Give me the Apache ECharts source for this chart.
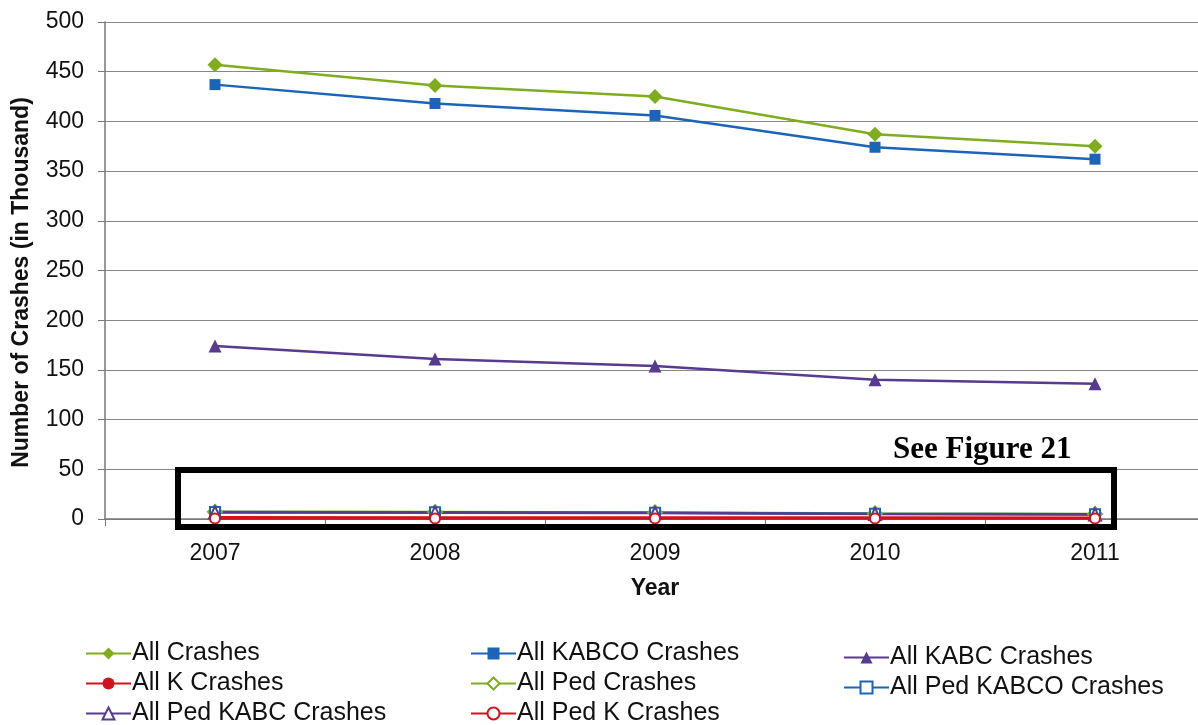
<!DOCTYPE html>
<html>
<head>
<meta charset="utf-8">
<script src="https://cdn.jsdelivr.net/npm/echarts@6/dist/echarts.min.js"></script>
<style>
  html, body { margin: 0; padding: 0; background: #fff; }
  #grafica { width: 1198px; height: 725px; }
</style>
</head>
<body>
<div id="grafica"></div>
<script>
const years = ["2007", "2008", "2009", "2010", "2011"];
const allCrashes = [457, 436, 425, 387, 375];
const allKabco = [437, 418, 406, 374, 362];
const allKabc = [174, 161, 154, 140, 136];
const allK = [1.8, 1.6, 1.5, 1.4, 1.3];
const allPed = [7.2, 7.0, 6.5, 5.6, 5.0];
const allPedKabco = [7.0, 6.8, 6.3, 5.4, 4.8];
const allPedKabc = [6.6, 6.4, 6.0, 5.0, 4.6];
const allPedK = [0.6, 0.5, 0.5, 0.4, 0.4];
const yTicks = { min: 0, max: 500, interval: 50 };

const green = "#7fad1f";
const blue = "#1c64b8";
const purple = "#573b8f";
const red = "#d3121c";
const font = "Liberation Sans";

const mkSeries = (name, data, color, symbol, size, hollow) => ({
  name: name,
  type: "line",
  data: data,
  symbol: symbol,
  symbolSize: size,
  lineStyle: { color: color, width: 2.5 },
  itemStyle: {
    color: hollow ? "#fff" : color,
    borderColor: color,
    borderWidth: hollow ? 2 : 0,
  },
  emphasis: { disabled: true },
});

const legendBase = {
  orient: "vertical",
  itemWidth: 45,
  itemHeight: 15,
  itemGap: 5,
  padding: 0,
  height: 100,
  textStyle: { fontFamily: font, fontSize: 25, color: "#111", padding: [0, 0, 0, -4] },
};

const getOptionChart = () => {
  return {
    animation: false,
    grid: { left: 105, top: 22, width: 1100, height: 497, outerBoundsMode: "none" },
    xAxis: {
      type: "category",
      data: years,
      boundaryGap: true,
      name: "Year",
      nameLocation: "middle",
      nameGap: 58,
      nameTextStyle: { fontFamily: font, fontSize: 23, fontWeight: "bold", color: "#111" },
      axisLine: { lineStyle: { color: "#777", width: 1.5 } },
      axisTick: { show: true, alignWithLabel: false, length: 7, lineStyle: { color: "#777" } },
      axisLabel: { fontFamily: font, fontSize: 23, color: "#111", margin: 23 },
    },
    yAxis: {
      type: "value",
      min: yTicks.min,
      max: yTicks.max,
      interval: yTicks.interval,
      name: "Number of Crashes (in Thousand)",
      nameLocation: "middle",
      nameGap: 72,
      nameTextStyle: { fontFamily: font, fontSize: 23, fontWeight: "bold", color: "#111", padding: [0, 24, 0, 0] },
      axisLine: { show: true, lineStyle: { color: "#777", width: 1.5 } },
      axisTick: { show: true, length: 7, lineStyle: { color: "#777" } },
      axisLabel: { fontFamily: font, fontSize: 23, color: "#111", margin: 21 },
      splitLine: { lineStyle: { color: "#888", width: 1.2 } },
    },
    legend: [
      Object.assign({}, legendBase, { left: 85, top: 641, data: ["All Crashes", "All K Crashes", "All Ped KABC Crashes"] }),
      Object.assign({}, legendBase, { left: 470, top: 641, data: ["All KABCO Crashes", "All Ped Crashes", "All Ped K Crashes"] }),
      Object.assign({}, legendBase, { left: 843, top: 645, data: ["All KABC Crashes", "All Ped KABCO Crashes"] }),
    ],
    graphic: [
      {
        type: "rect",
        shape: { x: 178, y: 470, width: 936, height: 57 },
        style: { fill: "none", stroke: "#000", lineWidth: 6 },
        z: 100,
      },
      {
        type: "text",
        left: 893,
        top: 434,
        style: { text: "See Figure 21", font: "bold 31px 'Liberation Serif'", fill: "#000" },
        z: 100,
      },
    ],
    series: [
      mkSeries("All Crashes", allCrashes, green, "diamond", 15, false),
      mkSeries("All KABCO Crashes", allKabco, blue, "rect", 11, false),
      mkSeries("All KABC Crashes", allKabc, purple, "triangle", 13, false),
      mkSeries("All K Crashes", allK, red, "circle", 10, false),
      mkSeries("All Ped Crashes", allPed, green, "diamond", 14, true),
      mkSeries("All Ped KABCO Crashes", allPedKabco, blue, "rect", 10, true),
      mkSeries("All Ped KABC Crashes", allPedKabc, purple, "triangle", 12, true),
      mkSeries("All Ped K Crashes", allPedK, red, "circle", 10, true),
    ],
  };
};

const initCharts = () => {
  const chart = echarts.init(document.querySelector("#grafica"));
  chart.setOption(getOptionChart());
};

initCharts();
</script>
</body>
</html>
